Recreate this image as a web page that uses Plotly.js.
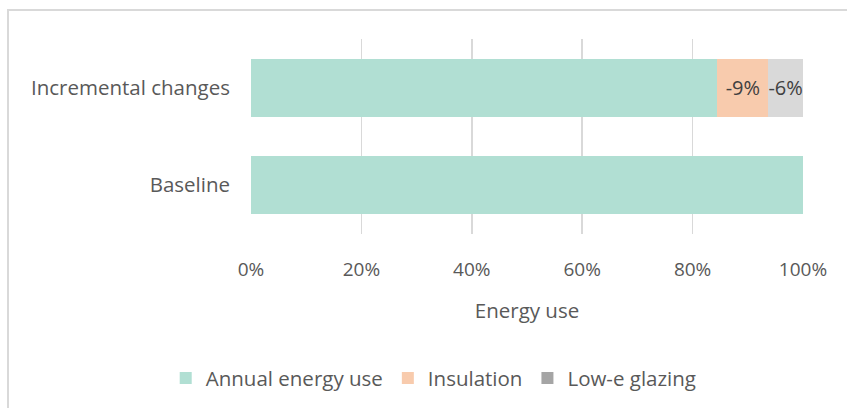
<!DOCTYPE html>
<html>
<head>
<meta charset="utf-8">
<script src="https://cdn.plot.ly/plotly-3.0.1.min.js"></script>
<style>
  html, body { margin: 0; padding: 0; background: #ffffff; }
  #wrap { position: relative; width: 847px; height: 408px; overflow: hidden; }
  #chart { position: absolute; left: 0; top: 0; width: 847px; height: 408px; }
  #frame { position: absolute; left: 7px; top: 9px; width: 900px; height: 500px;
           border: 2px solid #d9d9d9; box-sizing: border-box; pointer-events: none; }
</style>
</head>
<body>
<div id="wrap">
  <div id="chart"></div>
  <div id="frame"></div>
</div>
<script>
// Scenario rows, bottom to top
const scenarios = ['Baseline', 'Incremental changes'];

// Share of baseline energy use per scenario
const annualEnergyUse = [1.00, 0.845];
const insulation      = [null, 0.092];
const lowEGlazing     = [null, 0.063];

const seriesNames = ['Annual energy use', 'Insulation', 'Low-e glazing'];
const xTicks = [0, 0.2, 0.4, 0.6, 0.8, 1.0];

const FONT = '"Open Sans", Lato, sans-serif';
const TXT = '#595959';
const LABEL_SIZE = 20.5;
const NUM_SIZE = 19;

const barText = {
  texttemplate: '-%{x:.0%}', textposition: 'inside', insidetextanchor: 'middle',
  textangle: 0, constraintext: 'none',
  textfont: { family: FONT, size: 20, color: '#404040' }
};

const traces = [
  {
    type: 'bar', orientation: 'h', name: seriesNames[0],
    y: scenarios, x: annualEnergyUse,
    marker: { color: '#b1dfd3' },
    hoverinfo: 'x+name'
  },
  Object.assign({
    type: 'bar', orientation: 'h', name: seriesNames[1],
    y: scenarios, x: insulation,
    marker: { color: '#f8cbad' },
    hoverinfo: 'x+name'
  }, barText),
  Object.assign({
    type: 'bar', orientation: 'h', name: seriesNames[2],
    y: scenarios, x: lowEGlazing,
    marker: { color: '#a5a5a5', opacity: 0.42 },
    hoverinfo: 'x+name'
  }, barText)
];

const layout = {
  width: 847, height: 408,
  margin: { l: 251, r: 44, t: 39, b: 173 },
  paper_bgcolor: '#ffffff', plot_bgcolor: '#ffffff',
  barmode: 'stack', bargap: 0.41,
  font: { family: FONT, size: LABEL_SIZE, color: TXT },
  showlegend: true,
  legend: {
    orientation: 'h', x: 0.331, xanchor: 'center', y: -0.73, yanchor: 'middle',
    font: { family: FONT, size: LABEL_SIZE, color: TXT },
    traceorder: 'normal'
  },
  xaxis: {
    range: [0, 1], tickvals: xTicks, tickformat: '.0%',
    showgrid: true, gridcolor: '#d9d9d9', gridwidth: 1.5,
    zeroline: false, showline: false, ticks: '',
    ticklabelstandoff: 22,
    tickfont: { family: FONT, size: NUM_SIZE, color: TXT },
    title: { text: 'Energy use', font: { family: FONT, size: LABEL_SIZE, color: TXT }, standoff: 22 },
    fixedrange: true
  },
  yaxis: {
    type: 'category', categoryorder: 'array', categoryarray: scenarios,
    range: [-0.5, 1.5],
    showgrid: false, zeroline: false, showline: false, ticks: '',
    ticklabelstandoff: 20,
    tickfont: { family: FONT, size: LABEL_SIZE, color: TXT },
    fixedrange: true
  }
};

Plotly.newPlot('chart', traces, layout, { displayModeBar: false, staticPlot: true });
</script>
</body>
</html>
